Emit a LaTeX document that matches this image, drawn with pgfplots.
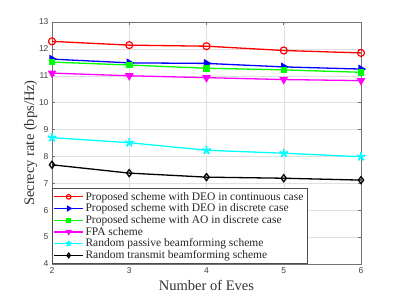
\documentclass[border=0pt]{standalone}
\usepackage{fontspec}
\setmainfont{Liberation Serif}
\newfontfamily\tickfont{Liberation Sans}
\usepackage{pgfplots}
\pgfplotsset{compat=1.18}
\definecolor{cR}{RGB}{255,0,0}
\definecolor{cB}{RGB}{0,0,255}
\definecolor{cG}{RGB}{0,255,0}
\definecolor{cM}{RGB}{255,0,255}
\definecolor{cC}{RGB}{0,255,255}
\definecolor{cK}{RGB}{0,0,0}
\begin{document}
\begin{tikzpicture}[x=1pt,y=1pt]
\path (0,0) rectangle (399,299);
\begin{axis}[
  at={(52pt,35pt)}, anchor=south west,
  scale only axis, width=309pt, height=242pt,
  xmin=2, xmax=6, ymin=4, ymax=13,
  xtick={2,3,4,5,6}, ytick={4,5,...,13},
  grid=major, major grid style={black!12, line width=0.4pt},
  axis line style={black!55, line width=0.6pt},
  tick style={black!55, line width=0.6pt},
  tick align=inside, major tick length=3pt,
  ticklabel style={font=\tickfont\fontsize{8.5}{9}\selectfont, text=black!75},
  /pgf/number format/assume math mode=true,
  xlabel={Number of Eves}, ylabel={Secrecy rate (bps/Hz)},
  label style={font=\fontsize{14.5}{16}\selectfont, text=black!80},
  xlabel style={yshift=0pt}, ylabel style={yshift=-5pt},
  legend style={at={(0,0)}, anchor=south west, font=\fontsize{11.5}{13}\selectfont,
    draw=black!70, line width=0.6pt, inner sep=1.5pt, row sep=-1.8pt,
    cells={anchor=west}, text=black!85},
  legend image code/.code={
    \draw[mark repeat=2,mark phase=2,#1,every mark/.append style={scale=0.65}] plot coordinates {(0cm,0cm) (0.5cm,0cm) (1.0cm,0cm)};},
  every axis plot/.append style={line width=1.3pt},
]
\addplot[cR, mark=o, mark size=3.5pt, mark options={line width=1.2pt}] coordinates {(2,12.28) (3,12.14) (4,12.10) (5,11.94) (6,11.85)};
\addplot[cB, mark=triangle*, mark size=3.8pt, mark options={rotate=-90}] coordinates {(2,11.62) (3,11.48) (4,11.46) (5,11.33) (6,11.25)};
\addplot[cG, mark=square*, mark size=2.6pt] coordinates {(2,11.51) (3,11.40) (4,11.28) (5,11.22) (6,11.13)};
\addplot[cM, mark=triangle*, mark size=3.8pt, mark options={rotate=180}] coordinates {(2,11.10) (3,11.00) (4,10.93) (5,10.86) (6,10.82)};
\addplot[cC, mark=star, mark size=4.5pt, mark options={line width=1.8pt}] coordinates {(2,8.70) (3,8.51) (4,8.23) (5,8.12) (6,7.99)};
\addplot[cK, mark=diamond, mark size=3.5pt, mark options={line width=1.3pt}] coordinates {(2,7.69) (3,7.38) (4,7.23) (5,7.19) (6,7.12)};
\legend{Proposed scheme with DEO in continuous case,
Proposed scheme with DEO in discrete case,
Proposed scheme with AO in discrete case,
FPA scheme,
Random passive beamforming scheme,
Random transmit beamforming scheme}
\end{axis}
\end{tikzpicture}
\end{document}
